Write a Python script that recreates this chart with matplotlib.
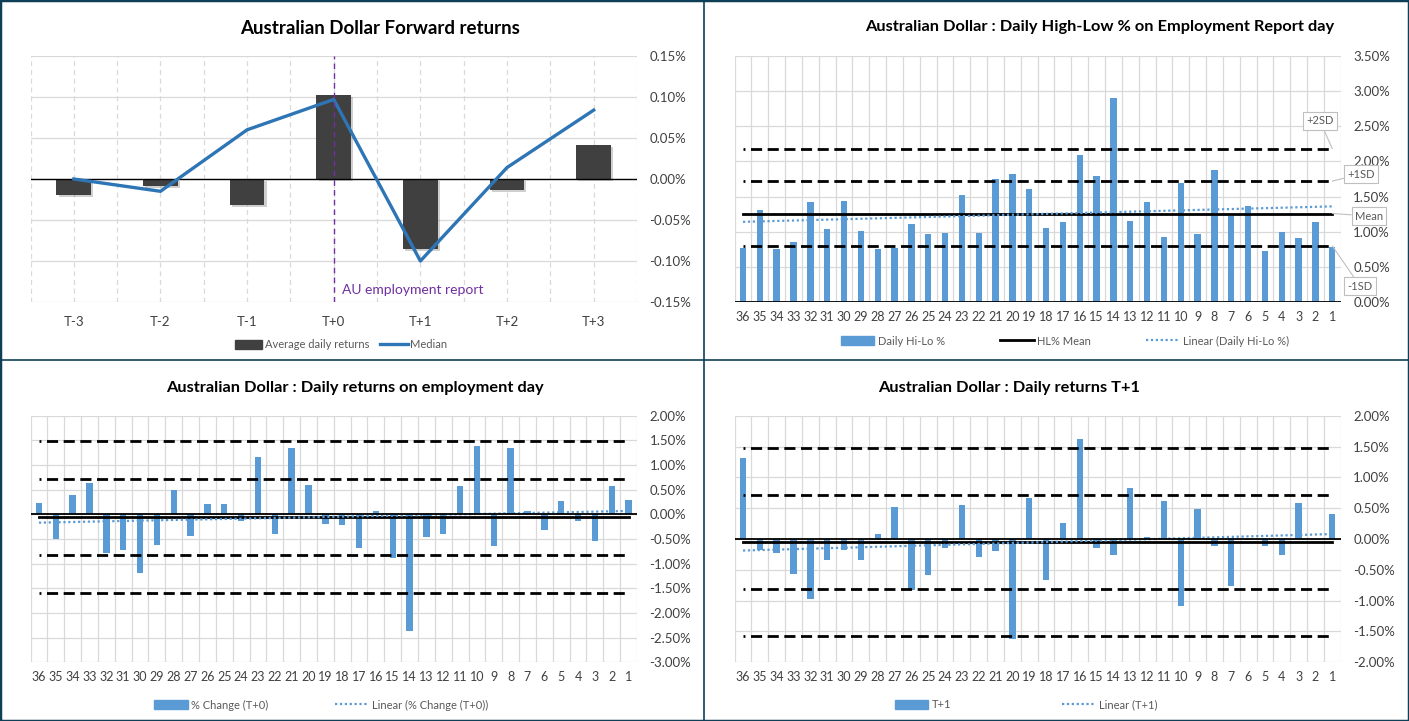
import matplotlib
matplotlib.use("Agg")
import matplotlib.pyplot as plt
import matplotlib.patheffects as pe
import numpy as np
from matplotlib.lines import Line2D
from matplotlib.patches import Patch
from matplotlib.ticker import FuncFormatter

plt.rcParams['font.family'] = ['Lato', 'DejaVu Sans']

# ---- data (values in %) ----
fwd_labels = ["T-3", "T-2", "T-1", "T+0", "T+1", "T+2", "T+3"]
fwd_avg = [-0.020, -0.008, -0.032, 0.102, -0.085, -0.013, 0.042]
fwd_median = [0.000, -0.015, 0.060, 0.097, -0.100, 0.014, 0.084]

day_labels = [str(d) for d in range(36, 0, -1)]

hilo = [0.77, 1.31, 0.76, 0.86, 1.42, 1.04, 1.44, 1.01, 0.76, 0.77,
        1.11, 0.97, 0.98, 1.52, 0.98, 1.75, 1.82, 1.61, 1.05, 1.14,
        2.09, 1.79, 2.90, 1.15, 1.42, 0.93, 1.69, 0.97, 1.88, 1.23,
        1.37, 0.73, 1.00, 0.91, 1.14, 0.79]
hilo_mean, hilo_sd = 1.26, 0.46

chg_t0 = [0.23, -0.50, 0.39, 0.64, -0.78, -0.72, -1.19, -0.62, 0.50, -0.44,
          0.21, 0.21, -0.14, 1.16, -0.40, 1.34, 0.59, -0.20, -0.22, -0.68,
          0.07, -0.89, -2.36, -0.46, -0.40, 0.57, 1.39, -0.64, 1.34, 0.07,
          -0.32, 0.27, -0.14, -0.54, 0.57, 0.29]
t0_mean, t0_sd = -0.05, 0.77

chg_t1 = [1.31, -0.18, -0.23, -0.57, -0.97, -0.34, -0.18, -0.34, 0.08, 0.52,
          -0.83, -0.58, -0.15, 0.55, -0.29, -0.19, -1.62, 0.66, -0.66, 0.26,
          1.62, -0.15, -0.26, 0.83, 0.03, 0.62, -1.09, 0.49, -0.11, -0.76,
          -0.01, -0.11, -0.26, 0.58, 0.00, 0.41]
t1_mean, t1_sd = -0.05, 0.765

W, H = 1409, 721
BLUE = "#5B9BD5"
GRID = "#D9D9D9"
TXT = "#404040"
LEG = "#595959"

fig = plt.figure(figsize=(W / 100, H / 100), dpi=100)


def place(x0, y0, x1, y1):
    return fig.add_axes([x0 / W, 1 - y1 / H, (x1 - x0) / W, (y1 - y0) / H])


pct = FuncFormatter(lambda v, p: f"{v:.2f}%")


def style_axes(ax, lo, hi, step, n):
    ax.set_xlim(-0.5, n - 0.5)
    ax.set_ylim(lo, hi)
    for s in ax.spines.values():
        s.set_visible(False)
    ax.yaxis.tick_right()
    ax.set_yticks(np.arange(lo, hi + step / 2, step))
    ax.yaxis.set_major_formatter(pct)
    ax.tick_params(axis='both', length=0, colors=TXT, labelsize=9.5)
    ax.tick_params(axis='y', pad=9)
    ax.grid(axis='y', color=GRID, lw=0.9)
    ax.set_axisbelow(True)


def sd_lines(ax, mean, sd, levels):
    x = np.arange(len(day_labels))
    ax.plot([x[0], x[-1]], [mean, mean], color='black', lw=2, zorder=4)
    for k in levels:
        ax.plot([x[0], x[-1]], [mean + k * sd] * 2, color='black', lw=2,
                linestyle=(3.3, (4, 2)), zorder=4)


def trend(ax, vals):
    x = np.arange(len(vals))
    a, b = np.polyfit(x, vals, 1)
    ax.plot(x, a * x + b, color=BLUE, lw=1.6, linestyle=(0, (1, 1.2)), zorder=4)


def bar_chart(ax, vals, lo, hi):
    n = len(vals)
    x = np.arange(n)
    style_axes(ax, lo, hi, 0.5, n)
    ax.bar(x, vals, width=0.38, color=BLUE, zorder=3)
    ax.set_xticks(x)
    ax.set_xticklabels(day_labels, fontsize=9)
    ax.tick_params(axis='x', pad=6)
    for g in np.arange(-0.5, n, 1.0):
        ax.axvline(g, color=GRID, lw=0.9, zorder=0)
    ax.axhline(0, color='black', lw=1.3, zorder=5)


# ---- top left: forward returns ----
ax1 = place(30.5, 56, 637, 302)
style_axes(ax1, -0.15, 0.15, 0.05, len(fwd_labels))
xf = np.arange(len(fwd_labels))
for g in np.arange(-0.5, len(fwd_labels), 0.5):
    ax1.axvline(g, color=GRID, lw=0.9, linestyle=(0, (4, 3)), zorder=0)
ax1.bar(xf, fwd_avg, width=0.4, color="#404040", zorder=3,
        path_effects=[pe.SimplePatchShadow(offset=(1.5, -1.5), alpha=0.2), pe.Normal()])
ax1.axhline(0, color='black', lw=1.0, zorder=4)
ax1.plot(xf, fwd_median, color="#2E75B6", lw=2.4, zorder=5)
ax1.axvline(3, color="#7030A0", lw=1.0, linestyle=(0, (4, 3)), zorder=6)
ax1.text(3.1, -0.135, "AU employment report", color="#7030A0", fontsize=10,
         va='center', ha='left')
ax1.set_xticks(xf)
ax1.set_xticklabels(fwd_labels, fontsize=9.5)
ax1.tick_params(axis='x', pad=10)
fig.text(380 / W, 1 - 29 / H, "Australian Dollar Forward returns", ha='center',
         va='center', fontsize=13.5, fontweight='bold', color='black')
fig.legend(handles=[Patch(color="#404040", label="Average daily returns"),
                    Line2D([], [], color="#2E75B6", lw=2.4, label="Median")],
           loc='center', bbox_to_anchor=(341 / W, 1 - 345 / H), ncol=2,
           frameon=False, fontsize=8, labelcolor=LEG, handlelength=2.5,
           handleheight=0.8, handletextpad=0.2, columnspacing=1.0)

# ---- top right: daily high-low ----
ax2 = place(734.6, 55.7, 1340.7, 302.3)
bar_chart(ax2, hilo, 0, 3.5)
sd_lines(ax2, hilo_mean, hilo_sd, [1, 2, -1])
trend(ax2, hilo)
fig.text(1100 / W, 1 - 27 / H,
         "Australian Dollar : Daily High-Low % on Employment Report day",
         ha='center', va='center', fontsize=11.8, fontweight='bold')
callouts = [("+2SD", hilo_mean + 2 * hilo_sd, (1320, H - 121)),
            ("+1SD", hilo_mean + hilo_sd, (1361, H - 174)),
            ("Mean", hilo_mean, (1369, H - 216)),
            ("-1SD", hilo_mean - hilo_sd, (1360, H - 286))]
for lab, yv, pos in callouts:
    ax2.annotate(lab, xy=(35, yv), xytext=pos, textcoords='figure pixels',
                 ha='center', va='center', fontsize=8, color=LEG,
                 bbox=dict(boxstyle='square,pad=0.3', fc='white', ec='#BFBFBF', lw=0.8),
                 arrowprops=dict(arrowstyle='-', color='#BFBFBF', lw=0.8,
                                 shrinkA=0, shrinkB=0),
                 annotation_clip=False, zorder=10)
fig.legend(handles=[Patch(color=BLUE, label="Daily Hi-Lo %"),
                    Line2D([], [], color='black', lw=2, label="HL% Mean"),
                    Line2D([], [], color=BLUE, lw=1.6, linestyle=(0, (1, 1.2)),
                           label="Linear (Daily Hi-Lo %)")],
           loc='center', bbox_to_anchor=(1065 / W, 1 - 341 / H), ncol=3,
           frameon=False, fontsize=8, labelcolor=LEG, handlelength=3,
           handleheight=0.8, handletextpad=0.3, columnspacing=5)

# ---- bottom left: T+0 returns ----
ax3 = place(30.5, 415.7, 637, 662.3)
bar_chart(ax3, chg_t0, -3, 2)
sd_lines(ax3, t0_mean, t0_sd, [1, 2, -1, -2])
trend(ax3, chg_t0)
fig.text(355 / W, 1 - 388 / H, "Australian Dollar : Daily returns on employment day",
         ha='center', va='center', fontsize=11.8, fontweight='bold')
fig.legend(handles=[Patch(color=BLUE, label="% Change (T+0)"),
                    Line2D([], [], color=BLUE, lw=1.6, linestyle=(0, (1, 1.2)),
                           label="Linear (% Change (T+0))")],
           loc='center', bbox_to_anchor=(321 / W, 1 - 705 / H), ncol=2,
           frameon=False, fontsize=8, labelcolor=LEG, handlelength=3,
           handleheight=0.8, handletextpad=0.3, columnspacing=6)

# ---- bottom right: T+1 returns ----
ax4 = place(734.6, 415.7, 1340.7, 662.3)
bar_chart(ax4, chg_t1, -2, 2)
sd_lines(ax4, t1_mean, t1_sd, [1, 2, -1, -2])
trend(ax4, chg_t1)
fig.text(1009 / W, 1 - 388 / H, "Australian Dollar : Daily returns T+1",
         ha='center', va='center', fontsize=11.8, fontweight='bold')
fig.legend(handles=[Patch(color=BLUE, label="T+1"),
                    Line2D([], [], color=BLUE, lw=1.6, linestyle=(0, (1, 1.2)),
                           label="Linear (T+1)")],
           loc='center', bbox_to_anchor=(1026 / W, 1 - 705 / H), ncol=2,
           frameon=False, fontsize=8, labelcolor=LEG, handlelength=3,
           handleheight=0.8, handletextpad=0.3, columnspacing=10)

# ---- panel borders ----
BORDER = "#0E3F57"
fig.add_artist(Line2D([0, 1, 1, 0, 0], [0, 0, 1, 1, 0], transform=fig.transFigure,
                      color=BORDER, lw=2.5))
fig.add_artist(Line2D([704 / W, 704 / W], [0, 1], transform=fig.transFigure,
                      color=BORDER, lw=1.2))
fig.add_artist(Line2D([0, 1], [1 - 360 / H, 1 - 360 / H], transform=fig.transFigure,
                      color=BORDER, lw=1.2))

fig.savefig("out.png", dpi=100)
